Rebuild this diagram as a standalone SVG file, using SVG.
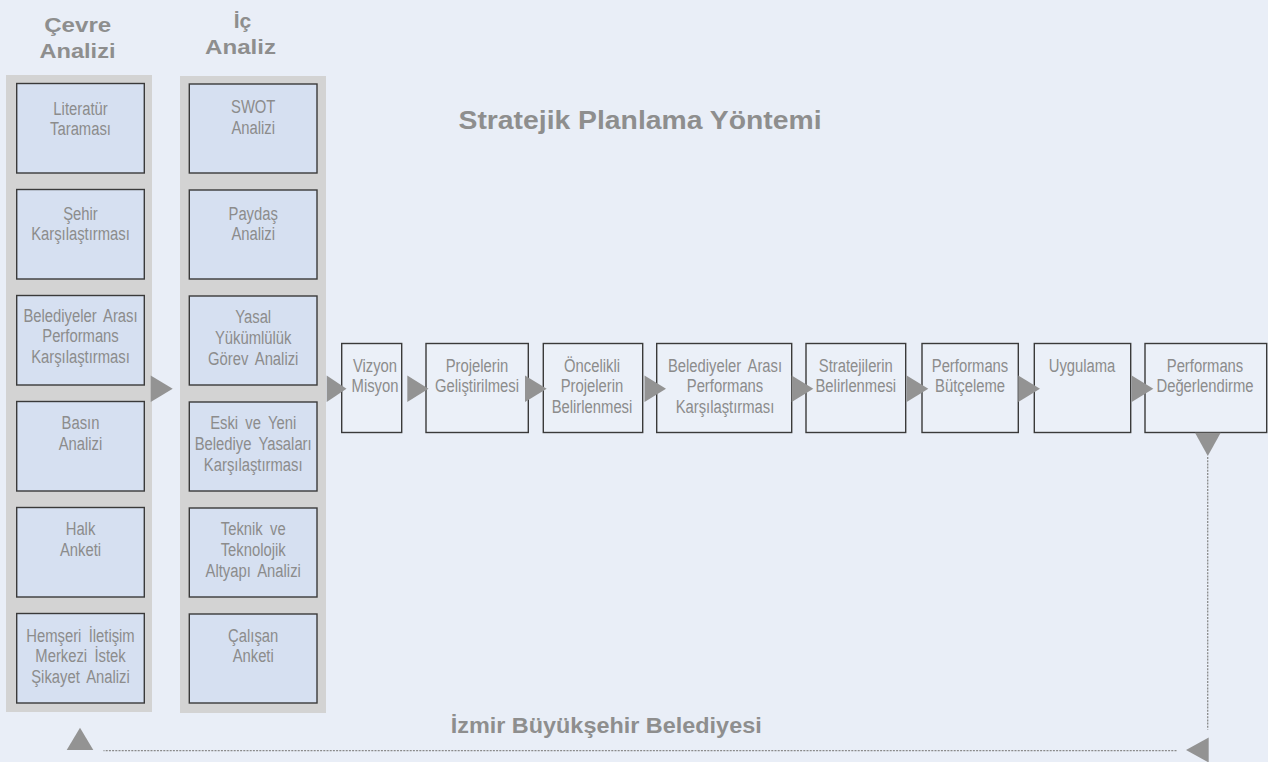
<svg xmlns="http://www.w3.org/2000/svg" width="1268" height="762" viewBox="0 0 1268 762">
<style>
.bg{fill:#E9EEF7}
.panel{fill:#D3D3D3}
.ibox{fill:#D6E0F1;stroke:#3A3A3A;stroke-width:1.4}
.fbox{fill:#EBF0F8;stroke:#3A3A3A;stroke-width:1.4}
.t{font-family:"Liberation Sans",Arial,sans-serif;font-size:19px;fill:#8C8C8C;text-anchor:middle}
.h{font-family:"Liberation Sans",Arial,sans-serif;font-weight:bold;fill:#8E8E8E;text-anchor:middle}
.arr{fill:#939393}
.dot{fill:none;stroke:#8A8A8A;stroke-width:1.3;stroke-dasharray:2 1.2}
</style>
<rect class="bg" x="0" y="0" width="1268" height="762"/>

<g id="headers">
<text class="h" x="77.7" y="31.7" font-size="21" textLength="67" lengthAdjust="spacingAndGlyphs">Çevre</text>
<text class="h" x="77.5" y="58.3" font-size="21" textLength="76" lengthAdjust="spacingAndGlyphs">Analizi</text>
<text class="h" x="242.5" y="28" font-size="21">İç</text>
<text class="h" x="240.5" y="54" font-size="21" textLength="71" lengthAdjust="spacingAndGlyphs">Analiz</text>
<text id="title" class="h" x="640" y="129.3" font-size="25" textLength="363" lengthAdjust="spacingAndGlyphs">Stratejik Planlama Yöntemi</text>
<text id="footer" class="h" x="606.2" y="733.3" font-size="21.5" textLength="311" lengthAdjust="spacingAndGlyphs">İzmir Büyükşehir Belediyesi</text>
</g>

<g id="cevre-analizi">
<rect class="panel" x="6" y="75" width="146" height="637"/>
<g id="literatur">
<rect class="ibox" x="16.7" y="83.5" width="127.6" height="89.5"/>
<text class="t" transform="translate(80.5,0) scale(0.78,1)"><tspan x="0" y="115">Literatür</tspan><tspan x="0" y="135">Taraması</tspan></text>
</g>
<g id="sehir">
<rect class="ibox" x="16.7" y="189.5" width="127.6" height="89.5"/>
<text class="t" transform="translate(80.5,0) scale(0.78,1)"><tspan x="0" y="220">Şehir</tspan><tspan x="0" y="240.5">Karşılaştırması</tspan></text>
</g>
<g id="belediyeler-sol">
<rect class="ibox" x="16.7" y="295.5" width="127.6" height="89.5"/>
<text class="t" transform="translate(80.5,0) scale(0.78,1)" word-spacing="4"><tspan x="0" y="321.7">Belediyeler Arası</tspan><tspan x="0" y="342.5">Performans</tspan><tspan x="0" y="363.3">Karşılaştırması</tspan></text>
</g>
<g id="basin">
<rect class="ibox" x="16.7" y="401.5" width="127.6" height="89.5"/>
<text class="t" transform="translate(80.5,0) scale(0.78,1)"><tspan x="0" y="429.5">Basın</tspan><tspan x="0" y="450">Analizi</tspan></text>
</g>
<g id="halk">
<rect class="ibox" x="16.7" y="507.5" width="127.6" height="89.5"/>
<text class="t" transform="translate(80.5,0) scale(0.78,1)"><tspan x="0" y="535.5">Halk</tspan><tspan x="0" y="556">Anketi</tspan></text>
</g>
<g id="hemseri">
<rect class="ibox" x="16.7" y="613.5" width="127.6" height="89.5"/>
<text class="t" transform="translate(80.5,0) scale(0.78,1)" word-spacing="4"><tspan x="0" y="641.7">Hemşeri İletişim</tspan><tspan x="0" y="662.5">Merkezi İstek</tspan><tspan x="0" y="683.3">Şikayet Analizi</tspan></text>
</g>
</g>

<g id="ic-analiz">
<rect class="panel" x="180" y="76" width="146" height="637"/>
<g id="swot">
<rect class="ibox" x="189.3" y="84" width="127.7" height="89"/>
<text class="t" transform="translate(253.2,0) scale(0.78,1)"><tspan x="0" y="113.3">SWOT</tspan><tspan x="0" y="133.8">Analizi</tspan></text>
</g>
<g id="paydas">
<rect class="ibox" x="189.3" y="190" width="127.7" height="89"/>
<text class="t" transform="translate(253.2,0) scale(0.78,1)"><tspan x="0" y="220">Paydaş</tspan><tspan x="0" y="240.5">Analizi</tspan></text>
</g>
<g id="yasal">
<rect class="ibox" x="189.3" y="296" width="127.7" height="89"/>
<text class="t" transform="translate(253.2,0) scale(0.78,1)" word-spacing="4"><tspan x="0" y="323.3">Yasal</tspan><tspan x="0" y="344.3">Yükümlülük</tspan><tspan x="0" y="365.3">Görev Analizi</tspan></text>
</g>
<g id="eski-yeni">
<rect class="ibox" x="189.3" y="402" width="127.7" height="89"/>
<text class="t" transform="translate(253.2,0) scale(0.78,1)" word-spacing="4"><tspan x="0" y="429.5">Eski ve Yeni</tspan><tspan x="0" y="450.5">Belediye Yasaları</tspan><tspan x="0" y="471.3">Karşılaştırması</tspan></text>
</g>
<g id="teknik">
<rect class="ibox" x="189.3" y="508" width="127.7" height="89"/>
<text class="t" transform="translate(253.2,0) scale(0.78,1)" word-spacing="4"><tspan x="0" y="535.5">Teknik ve</tspan><tspan x="0" y="556.3">Teknolojik</tspan><tspan x="0" y="577">Altyapı Analizi</tspan></text>
</g>
<g id="calisan">
<rect class="ibox" x="189.3" y="614" width="127.7" height="89"/>
<text class="t" transform="translate(253.2,0) scale(0.78,1)"><tspan x="0" y="641.7">Çalışan</tspan><tspan x="0" y="662.2">Anketi</tspan></text>
</g>
</g>

<g id="vizyon">
<rect class="fbox" x="341.7" y="343.5" width="60" height="89"/>
<text class="t" transform="translate(375,0) scale(0.78,1)"><tspan x="0" y="371.7">Vizyon</tspan><tspan x="0" y="392.5">Misyon</tspan></text>
</g>
<g id="projelerin">
<rect class="fbox" x="426" y="343.5" width="102.3" height="89"/>
<text class="t" transform="translate(477,0) scale(0.78,1)"><tspan x="0" y="371.7">Projelerin</tspan><tspan x="0" y="392.5">Geliştirilmesi</tspan></text>
</g>
<g id="oncelikli">
<rect class="fbox" x="543.3" y="343.5" width="99.4" height="89"/>
<text class="t" transform="translate(592,0) scale(0.78,1)"><tspan x="0" y="371.7">Öncelikli</tspan><tspan x="0" y="392.5">Projelerin</tspan><tspan x="0" y="413.3">Belirlenmesi</tspan></text>
</g>
<g id="belediyeler">
<rect class="fbox" x="656.7" y="343.5" width="135" height="89"/>
<text class="t" transform="translate(725,0) scale(0.78,1)" word-spacing="4"><tspan x="0" y="371.7">Belediyeler Arası</tspan><tspan x="0" y="392.5">Performans</tspan><tspan x="0" y="413.3">Karşılaştırması</tspan></text>
</g>
<g id="stratejilerin">
<rect class="fbox" x="806" y="343.5" width="99.7" height="89"/>
<text class="t" transform="translate(855.8,0) scale(0.78,1)"><tspan x="0" y="371.7">Stratejilerin</tspan><tspan x="0" y="392.5">Belirlenmesi</tspan></text>
</g>
<g id="butceleme">
<rect class="fbox" x="922" y="343.5" width="96.3" height="89"/>
<text class="t" transform="translate(970,0) scale(0.78,1)"><tspan x="0" y="371.7">Performans</tspan><tspan x="0" y="392.5">Bütçeleme</tspan></text>
</g>
<g id="uygulama">
<rect class="fbox" x="1034.3" y="343.5" width="96.4" height="89"/>
<text class="t" transform="translate(1082,0) scale(0.78,1)"><tspan x="0" y="371.7">Uygulama</tspan></text>
</g>
<g id="degerlendirme">
<rect class="fbox" x="1145" y="343.5" width="121.7" height="89"/>
<text class="t" transform="translate(1205,0) scale(0.78,1)"><tspan x="0" y="371.7">Performans</tspan><tspan x="0" y="392.5">Değerlendirme</tspan></text>
</g>

<g id="connectors">
<polygon class="arr" points="150.7,375.5 172.7,388.7 150.7,402"/>
<polygon class="arr" points="326.7,375.5 346.5,388.7 326.7,402"/>
<polygon class="arr" points="407.3,375.5 428.5,388.7 407.3,402"/>
<polygon class="arr" points="525,375.5 546.7,388.7 525,402"/>
<polygon class="arr" points="644.5,375.5 666,388.7 644.5,402"/>
<polygon class="arr" points="791.7,375.5 813.3,388.7 791.7,402"/>
<polygon class="arr" points="906.7,375.5 928.3,388.7 906.7,402"/>
<polygon class="arr" points="1018.3,375.5 1040,388.7 1018.3,402"/>
<polygon class="arr" points="1131.7,375.5 1153.3,388.7 1131.7,402"/>
<polygon class="arr" points="1195,432.7 1220.7,432.7 1207.8,456"/>
<path class="dot" d="M1207.7,457 V729.5"/>
<polygon class="arr" points="1186,750 1208.7,737.5 1208.7,762.5"/>
<path class="dot" d="M1176.5,750.7 H103.5"/>
<polygon class="arr" points="80,727.7 93.3,750 66.7,750"/>
</g>
</svg>
